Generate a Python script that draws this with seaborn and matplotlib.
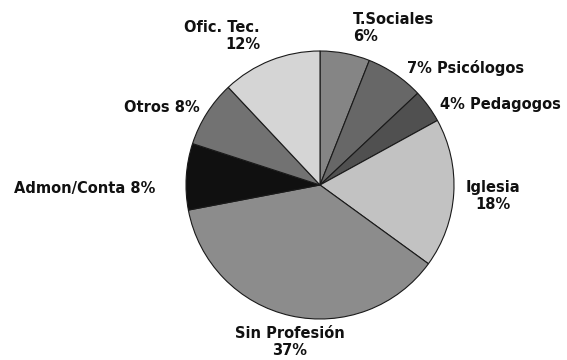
import matplotlib
matplotlib.use("Agg")
import matplotlib.pyplot as plt
import seaborn as sns

# Distribution of professions (percent), clockwise from 12 o'clock
categories = ["T.Sociales", "Psicólogos", "Pedagogos", "Iglesia",
              "Sin Profesión", "Admon/Conta", "Otros", "Ofic. Tec."]
values = [6, 7, 4, 18, 37, 8, 8, 12]
label_formats = ["{c}\n{v}%", "{v}% {c}", "{v}% {c}", "{c}\n{v}%",
                 "{c}\n{v}%", "{c} {v}%", "{c} {v}%", "{c}\n{v}%"]

shades = ["#858585", "#676767", "#505050", "#c2c2c2",
          "#8c8c8c", "#101010", "#727272", "#d5d5d5"]

# label anchor points in pixel space and their alignment
label_px = [(353, 28), (407, 68), (440, 105), (493, 196),
            (290, 342), (155, 188), (200, 108), (260, 36)]
label_align = ["left", "left", "left", "center",
               "center", "right", "right", "right"]

sns.set_theme(style="white")
plt.rcParams["font.family"] = ["DejaVu Sans"]

W, H = 567, 360
cx, cy, R = 320, 185, 134
fig = plt.figure(figsize=(W / 100, H / 100), dpi=100)
ax = fig.add_axes([(cx - R) / W, (H - cy - R) / H, 2 * R / W, 2 * R / H])

ax.pie(values, colors=shades, startangle=90, counterclock=False,
       radius=1.0,
       wedgeprops=dict(edgecolor="#1a1a1a", linewidth=0.8))
ax.set_xlim(-1, 1)
ax.set_ylim(-1, 1)
ax.set_aspect("equal")
ax.axis("off")

for cat, val, fmt, (px, py), ha in zip(categories, values, label_formats,
                                       label_px, label_align):
    x = (px - cx) / R
    y = (cy - py) / R
    ax.text(x, y, fmt.format(c=cat, v=val), ha=ha, va="center",
            multialignment=ha, fontsize=10.5, fontweight="bold",
            color="#111111", linespacing=1.1, clip_on=False)

fig.savefig("out.png", dpi=100, facecolor="white")
